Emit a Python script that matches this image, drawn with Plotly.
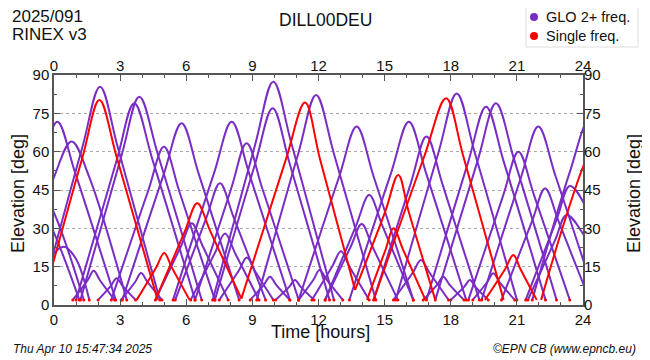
import plotly.graph_objects as go

# ---- data (time [h], elevation [deg]) ----
glo_t = [
    [-2.4, -0.62, 0.15, 0.95, 2.8], [-1.8, 0.0, 0.8, 1.6, 3.3], [-1.0, -0.2, 0.45, 1.0, 1.6],
    [-3.0, -1.6, -1.0, -0.1, 1.35], [-2.8, -1.3, -0.8, -0.2, 1.15], [0.85, 1.52, 1.8, 2.09, 2.75],
    [2.0, 2.59, 2.84, 3.1, 3.7], [-0.6, 1.28, 2.09, 2.9, 4.8], [1.0, 2.85, 3.64, 4.47, 6.4],
    [1.2, 3.07, 3.87, 4.72, 6.7], [3.05, 3.68, 3.95, 4.24, 4.9], [2.6, 4.27, 4.99, 5.68, 7.3],
    [3.1, 4.98, 5.79, 6.57, 8.4], [4.6, 5.76, 6.25, 6.75, 7.9], [5.5, 6.92, 7.53, 8.15, 9.6],
    [6.2, 7.29, 7.76, 8.22, 9.3], [5.4, 7.26, 8.06, 8.85, 10.7], [6.4, 8.04, 8.74, 9.45, 11.1],
    [7.5, 8.38, 8.75, 9.11, 9.95], [7.2, 9.13, 9.95, 10.78, 12.7], [7.3, 9.13, 9.92, 10.69, 12.5],
    [8.9, 9.53, 9.8, 10.07, 10.7], [10.05, 10.67, 10.93, 11.19, 11.8], [9.2, 11.08, 11.89, 12.7, 14.6],
    [11.1, 11.77, 12.05, 12.37, 13.1], [11.7, 12.62, 13.02, 13.4, 14.3], [11.1, 12.94, 13.73, 14.5, 16.3],
    [12.3, 13.46, 13.96, 14.45, 15.6], [12.3, 13.7, 14.3, 14.9, 16.3], [13.4, 15.29, 16.1, 16.88, 18.7],
    [14.5, 16.18, 16.9, 17.62, 19.3], [15.4, 16.28, 16.65, 17.03, 17.9], [16.75, 17.39, 17.66, 17.94, 18.6],
    [15.5, 17.44, 18.27, 19.09, 21.0], [18.0, 18.61, 18.87, 19.12, 19.7], [16.9, 18.79, 19.6, 20.41, 22.3],
    [17.3, 19.23, 20.05, 20.88, 22.8], [19.0, 19.65, 19.93, 20.22, 20.9], [18.8, 20.39, 21.07, 21.77, 23.4],
    [19.4, 21.2, 21.97, 22.76, 24.6], [20.3, 21.69, 22.28, 22.89, 24.3], [21.4, 22.81, 23.41, 24.4, 26.0],
    [21.5, 22.73, 23.26, 24.2, 25.9], [21.7, 23.4, 24.3, 25.2, 27.0],
]
glo_e = [
    [2, 52, 71.7, 52, 2], [2, 50, 64, 50, 2], [2, 18, 22.8, 18, 2],
    [2, 40, 50, 38, 2], [2, 34, 40, 32, 2], [2, 9.6, 13.4, 9.6, 2],
    [2, 7.6, 10.5, 7.6, 2], [2, 61.5, 85.4, 61.5, 2], [2, 56.8, 78.9, 56.8, 2],
    [2, 58.7, 81.5, 58.7, 2], [2, 9, 12.5, 9, 2], [2, 44.6, 61.9, 44.6, 2],
    [2, 51.2, 71.1, 51.2, 2], [2, 23, 32, 23, 2], [2, 34.3, 47.6, 34.3, 2],
    [2, 20.2, 28, 20.2, 2], [2, 51.6, 71.7, 51.6, 2], [2, 45.6, 63.3, 45.6, 2],
    [2, 13.4, 18.6, 13.4, 2], [2, 62.9, 87.4, 62.9, 2], [2, 55.4, 77, 55.4, 2],
    [2, 8, 11.1, 8, 2], [2, 7.1, 9.8, 7.1, 2], [2, 59.2, 82.2, 59.2, 2],
    [2, 9.9, 13.7, 9.9, 2], [2, 15.1, 21, 15.1, 2], [2, 50.3, 69.8, 50.3, 2],
    [2, 22.8, 31.7, 22.8, 2], [2, 31, 43, 31, 2], [2, 51.6, 71.7, 51.6, 2],
    [2, 47.4, 65.9, 47.4, 2], [2, 12.7, 17.6, 12.7, 2], [2, 8, 11.1, 8, 2],
    [2, 59.6, 82.8, 59.6, 2], [2, 7.1, 9.8, 7.1, 2], [2, 55.9, 77.6, 55.9, 2],
    [2, 56.8, 78.9, 56.8, 2], [2, 8.9, 12.4, 8.9, 2], [2, 43.2, 60, 43.2, 2],
    [2, 50.3, 69.8, 50.3, 2], [2, 32.8, 45.6, 32.8, 2], [2, 33.6, 46.6, 34, 2],
    [2, 25.3, 35.2, 25.3, 2], [2, 52, 72.5, 52, 2],
]
single_t = [
    [-0.5, 1.29, 2.06, 2.85, 4.7], [3.75, 4.63, 5.0, 5.35, 6.15], [4.6, 5.93, 6.5, 7.1, 8.5],
    [8.5, 10.52, 11.39, 12.07, 13.66], [13.66, 15.03, 15.62, 16.09, 17.3], [14.2, 15.04, 15.4, 15.84, 16.85],
    [14.5, 16.8, 17.79, 18.57, 20.4], [19.55, 20.47, 20.84, 21.16, 21.9], [22.1, 23.1, 24.0, 24.6],
]
single_e = [
    [2, 57.7, 80.2, 57.7, 2], [2, 14.6, 20.3, 14.6, 2], [2, 28.7, 39.8, 28.7, 2.5],
    [2.5, 57, 79.2, 57, 5.9], [5.9, 36.6, 50.9, 36.6, 2], [2, 21.6, 30, 21.6, 2],
    [2, 58.2, 80.9, 58.2, 2], [2, 14.1, 19.6, 14.1, 2], [2, 31, 54, 65],
]
hour_ticks = [0, 3, 6, 9, 12, 15, 18, 21, 24]
elev_ticks = [0, 15, 30, 45, 60, 75, 90]
legend_names = ["GLO 2+ freq.", "Single freq."]

PURPLE = "#7a2dc4"
RED = "#ff0000"
FONT = "Liberation Sans, Arial, sans-serif"

fig = go.Figure()
for t, e in zip(glo_t, glo_e):
    fig.add_trace(go.Scatter(x=t, y=e, mode="lines", line=dict(color=PURPLE, width=2, shape="spline", smoothing=1.0),
                             showlegend=False, hoverinfo="skip"))
for t, e in zip(single_t, single_e):
    fig.add_trace(go.Scatter(x=t, y=e, mode="lines", line=dict(color=RED, width=2, shape="spline", smoothing=1.0),
                             showlegend=False, hoverinfo="skip"))

# small red marks at the ends of arcs
ex, ey = [], []
for t, e in zip(glo_t, glo_e):
    for i in (0, -1):
        if 0 <= t[i] <= 24:
            ex.append(t[i]); ey.append(e[i])
fig.add_trace(go.Scatter(x=ex, y=ey, mode="markers", marker=dict(color=RED, size=3), showlegend=False, hoverinfo="skip"))

# invisible trace for secondary axes
fig.add_trace(go.Scatter(x=[0, 24], y=[0, 90], xaxis="x2", yaxis="y2", mode="markers",
                         marker=dict(opacity=0), showlegend=False, hoverinfo="skip"))

# plot area in page pixels: x 54..583, y 75..305 (page has an 8px body margin)
def px(x):
    return (x - 54) / 529.0

def py(y):
    return (305 - y) / 230.0

shapes = [
    dict(type="rect", xref="paper", yref="paper", x0=px(526), x1=px(638), y0=py(47), y1=py(6),
         line=dict(color="#dddddd", width=1), fillcolor="white", layer="above"),
]
annotations = []
for name, col, yc in zip(legend_names, [PURPLE, RED], [17, 36]):
    shapes.append(dict(type="circle", xref="paper", yref="paper", x0=px(530), x1=px(538), y0=py(yc + 4), y1=py(yc - 4),
                       line=dict(color=col, width=0), fillcolor=col, layer="above"))
    annotations.append(dict(text=name, x=px(544), y=py(yc), xref="paper", yref="paper", xanchor="left",
                            yanchor="middle", showarrow=False, font=dict(size=14.5)))

annotations += [
    dict(text="2025/091", x=px(10), y=py(17), xref="paper", yref="paper", xanchor="left", yanchor="middle",
         showarrow=False, font=dict(size=17)),
    dict(text="RINEX v3", x=px(10), y=py(35), xref="paper", yref="paper", xanchor="left", yanchor="middle",
         showarrow=False, font=dict(size=17)),
    dict(text="DILL00DEU", x=px(325), y=py(20), xref="paper", yref="paper", xanchor="center", yanchor="middle",
         showarrow=False, font=dict(size=17.5)),
    dict(text="Time [hours]", x=px(320), y=py(332), xref="paper", yref="paper", xanchor="center", yanchor="middle",
         showarrow=False, font=dict(size=18)),
    dict(text="Elevation [deg]", x=px(18), y=py(194), xref="paper", yref="paper", xanchor="center", yanchor="middle",
         textangle=-90, showarrow=False, font=dict(size=18)),
    dict(text="Elevation [deg]", x=px(634), y=py(194), xref="paper", yref="paper", xanchor="center", yanchor="middle",
         textangle=-90, showarrow=False, font=dict(size=18)),
    dict(text="<i>Thu Apr 10 15:47:34 2025</i>", x=px(11), y=py(349), xref="paper", yref="paper",
         xanchor="left", yanchor="middle", showarrow=False, font=dict(size=12)),
    dict(text="<i>©EPN CB (www.epncb.eu)</i>", x=px(638), y=py(349), xref="paper", yref="paper",
         xanchor="right", yanchor="middle", showarrow=False, font=dict(size=12)),
]

axis_common = dict(showline=True, linecolor="#555555", linewidth=1.5, zeroline=False, automargin=False,
                   tickfont=dict(size=15, color="#111", family=FONT))
fig.update_layout(
    width=642, height=352,
    margin=dict(l=46, r=67, t=67, b=55, autoexpand=False),
    paper_bgcolor="white", plot_bgcolor="white",
    font=dict(family=FONT, color="#111"),
    showlegend=False,
    xaxis=dict(range=[0, 24], tickvals=hour_ticks, ticks="inside", ticklen=6, tickcolor="#555",
               mirror="ticks", showgrid=False,
               minor=dict(dtick=1, ticks="inside", ticklen=3, tickcolor="#555", showgrid=False),
               **axis_common),
    yaxis=dict(range=[0, 90], tickvals=elev_ticks, ticks="inside", ticklen=6, tickcolor="#555",
               mirror="ticks", showgrid=True, gridcolor="#aaaaaa", griddash="dot", gridwidth=1,
               minor=dict(dtick=7.5, ticks="inside", ticklen=3, tickcolor="#555", showgrid=False),
               **axis_common),
    xaxis2=dict(range=[0, 24], tickvals=hour_ticks, overlaying="x", side="top", ticks="",
                showgrid=False, showline=False, zeroline=False, automargin=False,
                tickfont=dict(size=15, color="#111", family=FONT)),
    yaxis2=dict(range=[0, 90], tickvals=elev_ticks, overlaying="y", side="right", ticks="",
                showgrid=False, showline=False, zeroline=False, automargin=False,
                tickfont=dict(size=15, color="#111", family=FONT)),
    shapes=shapes,
    annotations=annotations,
)
fig.write_html("out.html")
